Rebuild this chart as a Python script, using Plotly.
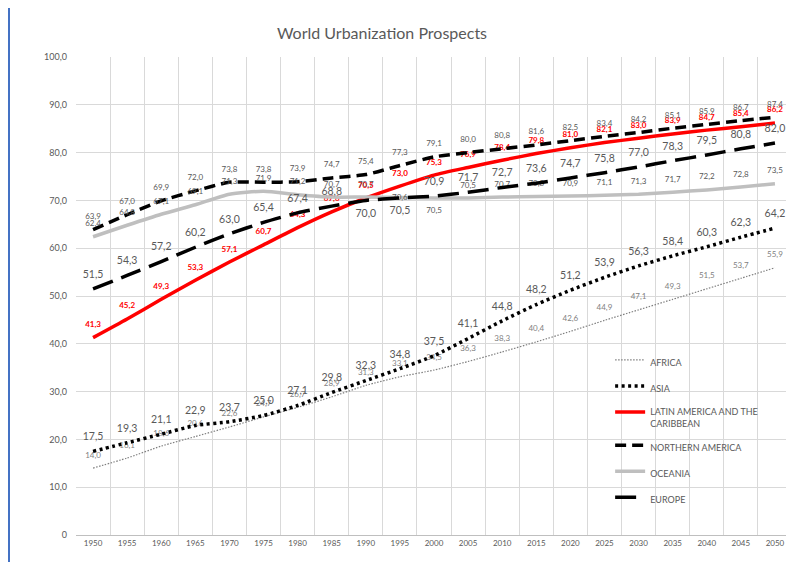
import plotly.graph_objects as go

years = [str(y) for y in range(1950, 2051, 5)]

africa = [14.0, 16.1, 18.6, 20.6, 22.6, 24.7, 26.7, 28.9, 31.3, 33.1, 34.5,
          36.3, 38.3, 40.4, 42.6, 44.9, 47.1, 49.3, 51.5, 53.7, 55.9]
asia = [17.5, 19.3, 21.1, 22.9, 23.7, 25.0, 27.1, 29.8, 32.3, 34.8, 37.5,
        41.1, 44.8, 48.2, 51.2, 53.9, 56.3, 58.4, 60.3, 62.3, 64.2]
latin = [41.3, 45.2, 49.3, 53.3, 57.1, 60.7, 64.3, 67.6, 70.5, 73.0, 75.3,
         76.9, 78.4, 79.8, 81.0, 82.1, 83.0, 83.9, 84.7, 85.4, 86.2]
northern = [63.9, 67.0, 69.9, 72.0, 73.8, 73.8, 73.9, 74.7, 75.4, 77.3, 79.1,
            80.0, 80.8, 81.6, 82.5, 83.4, 84.2, 85.1, 85.9, 86.7, 87.4]
oceania = [62.4, 64.8, 67.1, 69.1, 71.3, 71.9, 71.2, 70.7, 70.7, 70.6, 70.5,
           70.5, 70.7, 70.8, 70.9, 71.1, 71.3, 71.7, 72.2, 72.8, 73.5]
europe = [51.5, 54.3, 57.2, 60.2, 63.0, 65.4, 67.4, 68.8, 70.0, 70.5, 70.9,
          71.7, 72.7, 73.6, 74.7, 75.8, 77.0, 78.3, 79.5, 80.8, 82.0]

y_ticks = list(range(0, 101, 10))
y_ticktext = ["0"] + [f"{v},0" for v in y_ticks[1:]]

FONT = "Lato, 'Open Sans', sans-serif"
GRAY = "#595959"

# the page body has an 8px margin; the figure is sized to fit the window
W, H = 786, 554
ML, MR, MT, MB = 68, 2, 49, 27
PW = W - ML - MR
PH = H - MT - MB

def fmt(vals):
    return [f"{v:.1f}".replace(".", ",") for v in vals]

fig = go.Figure()

def add(name, vals, color, width, dash, tcolor, tsize, bold=False, positions=None):
    txt = fmt(vals)
    if bold:
        txt = [f"<b>{t}</b>" for t in txt]
    fig.add_trace(go.Scatter(
        x=years, y=vals, name=name, mode="lines+markers+text",
        line=dict(color=color, width=width, dash=dash, shape="spline", smoothing=0.6),
        marker=dict(size=12, color="rgba(0,0,0,0)", line=dict(width=0)),
        text=txt,
        textposition=positions if positions else "top center",
        textfont=dict(color=tcolor, size=tsize, family=FONT),
        cliponaxis=False, legendgroup=name, hoverinfo="skip",
    ))

add("AFRICA", africa, "#7F7F7F", 1.2, "1.5px,1.5px", "#7F7F7F", 8)
add("ASIA", asia, "#000000", 3.5, "3px,3.5px", GRAY, 10.5)
add("LATIN AMERICA AND THE<br>CARIBBEAN", latin, "#FF0000", 3.5, "solid", "#FF0000", 8, bold=True)
add("NORTHERN AMERICA", northern, "#000000", 3.5, "11px,6px", GRAY, 8)
oce_pos = ["top center"] * len(oceania)
oce_pos[9] = "middle center"
oce_pos[10] = "bottom center"
add("OCEANIA", oceania, "#BFBFBF", 3.5, "solid", GRAY, 8, positions=oce_pos)
eur_pos = ["top center"] * len(europe)
eur_pos[8] = "bottom center"
eur_pos[9] = "bottom center"
add("EUROPE", europe, "#000000", 3.5, "21px,9px", GRAY, 10.5, positions=eur_pos)

fig.update_layout(
    width=W, height=H,
    margin=dict(l=ML, r=MR, t=MT, b=MB),
    paper_bgcolor="white", plot_bgcolor="white",
    font=dict(family=FONT, color=GRAY),
    title=dict(text="World Urbanization Prospects", x=374/W, xref="container",
               xanchor="center", y=1-25/H, yref="container", yanchor="middle",
               font=dict(size=16, color=GRAY, family=FONT)),
    legend=dict(x=0.746, y=0.392, xanchor="left", yanchor="top",
                font=dict(size=9, color=GRAY, family=FONT),
                tracegroupgap=7, valign="top", bgcolor="rgba(0,0,0,0)",
                itemwidth=30),
    showlegend=True,
    shapes=[dict(type="line", xref="paper", yref="paper",
                 x0=(1-ML)/PW, x1=(1-ML)/PW, y0=-MB/PH - 0.01, y1=1 + MT/PH + 0.01,
                 line=dict(color="#4472C4", width=2))],
)
fig.update_xaxes(type="category", range=[-0.5, 20.5], tickson="boundaries",
                 showgrid=True, gridcolor="#D9D9D9", gridwidth=1,
                 showline=True, linecolor="#BFBFBF", ticks="",
                 tickfont=dict(size=8, color=GRAY, family=FONT))
fig.update_yaxes(range=[0, 100], tickvals=y_ticks, ticktext=y_ticktext,
                 showgrid=True, gridcolor="#D9D9D9", gridwidth=1, zeroline=False,
                 showline=False, ticks="", ticklabelstandoff=8,
                 tickfont=dict(size=9, color=GRAY, family=FONT))

fig.write_html("out.html")
